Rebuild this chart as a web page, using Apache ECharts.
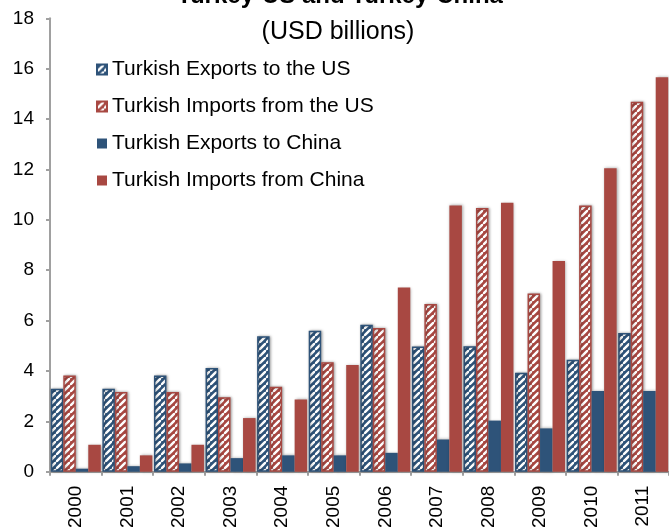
<!DOCTYPE html>
<html>
<head>
<meta charset="utf-8">
<script src="https://cdn.jsdelivr.net/npm/echarts@6/dist/echarts.min.js"></script>
<style>
html,body{margin:0;padding:0;background:#fff;}
#c{width:669px;height:531px;}
</style>
</head>
<body>
<div id="c"></div>
<script>
var categories = ['2000','2001','2002','2003','2004','2005','2006','2007','2008','2009','2010','2011'];
var exportsToUS   = [3.29, 3.29, 3.82, 4.12, 5.38, 5.60, 5.83, 4.97, 4.98, 3.93, 4.45, 5.51];
var importsFromUS = [3.82, 3.17, 3.17, 2.96, 3.37, 4.35, 5.71, 6.66, 10.47, 7.08, 10.57, 14.69];
var exportsToChina   = [0.12, 0.22, 0.33, 0.54, 0.65, 0.65, 0.75, 1.28, 2.03, 1.72, 3.20, 3.20];
var importsFromChina = [1.07, 0.65, 1.07, 2.13, 2.87, 4.24, 7.31, 10.57, 10.68, 8.37, 12.05, 15.66];
var yTicks = {min: 0, max: 18, interval: 2};

var BLUE = '#2e5379';
var RED = '#a84842';

function hatch(color) {
  var s = 7;
  var cv = document.createElement('canvas');
  cv.width = s; cv.height = s;
  var ctx = cv.getContext('2d');
  ctx.fillStyle = color;
  ctx.fillRect(0, 0, s, s);
  ctx.strokeStyle = '#ffffff';
  ctx.lineWidth = 2.4;
  ctx.beginPath();
  ctx.moveTo(-1, s + 1); ctx.lineTo(s + 1, -1);
  ctx.moveTo(-2, 1); ctx.lineTo(1, -2);
  ctx.moveTo(s - 1, s + 2); ctx.lineTo(s + 2, s - 1);
  ctx.stroke();
  return {image: cv, repeat: 'repeat'};
}

var shadow = {shadowColor: 'rgba(0,0,0,0.35)', shadowBlur: 3, shadowOffsetX: 1, shadowOffsetY: 0};

function hatchedStyle(color) {
  return Object.assign({color: hatch(color), borderColor: color, borderWidth: 1.5}, shadow);
}
function solidStyle(color) {
  return Object.assign({color: color}, shadow);
}

var chart = echarts.init(document.getElementById('c'), null, {renderer: 'canvas'});
var font = 'Liberation Sans, Arial, Helvetica, sans-serif';
chart.setOption({
  animation: false,
  title: [
    {text: 'Turkey-US and Turkey-China', left: 335, top: -21, textAlign: 'center',
     textStyle: {fontFamily: font, fontSize: 24, fontWeight: 'bold', color: '#000'}},
    {text: '(USD billions)', left: 333, top: 15, textAlign: 'center',
     textStyle: {fontFamily: font, fontSize: 25, fontWeight: 'normal', color: '#000'}}
  ],
  legend: {
    orient: 'vertical', left: 96, top: 59, padding: 0,
    itemWidth: 10, itemHeight: 10, itemGap: 16,
    textStyle: {fontFamily: font, fontSize: 21, color: '#000', lineHeight: 20},
    data: [
      {name: 'Turkish Exports to the US', icon: 'rect'},
      {name: 'Turkish Imports from the US', icon: 'rect'},
      {name: 'Turkish Exports to China', icon: 'rect'},
      {name: 'Turkish Imports from China', icon: 'rect'}
    ]
  },
  grid: {left: 50, top: 18.3, width: 622, height: 454},
  xAxis: {
    type: 'category', data: categories,
    axisLine: {lineStyle: {color: '#a0a0a0', width: 2}},
    axisTick: {show: true, length: 4, lineStyle: {color: '#a0a0a0', width: 2}},
    axisLabel: {rotate: 90, margin: 14, fontFamily: font, fontSize: 19, color: '#000'}
  },
  yAxis: {
    type: 'value', min: yTicks.min, max: yTicks.max, interval: yTicks.interval,
    axisLine: {show: true, lineStyle: {color: '#a0a0a0', width: 2}},
    axisTick: {show: true, length: 4, lineStyle: {color: '#a0a0a0', width: 2}},
    splitLine: {show: false},
    axisLabel: {margin: 16, fontFamily: font, fontSize: 19, color: '#000'}
  },
  series: [
    {name: 'Turkish Exports to the US', type: 'bar', data: exportsToUS, barWidth: 12.5, barGap: '0%', itemStyle: hatchedStyle(BLUE)},
    {name: 'Turkish Imports from the US', type: 'bar', data: importsFromUS, barWidth: 12.5, barGap: '0%', itemStyle: hatchedStyle(RED)},
    {name: 'Turkish Exports to China', type: 'bar', data: exportsToChina, barWidth: 12.5, barGap: '0%', itemStyle: solidStyle(BLUE)},
    {name: 'Turkish Imports from China', type: 'bar', data: importsFromChina, barWidth: 12.5, barGap: '0%', itemStyle: solidStyle(RED)}
  ]
});
</script>
</body>
</html>
